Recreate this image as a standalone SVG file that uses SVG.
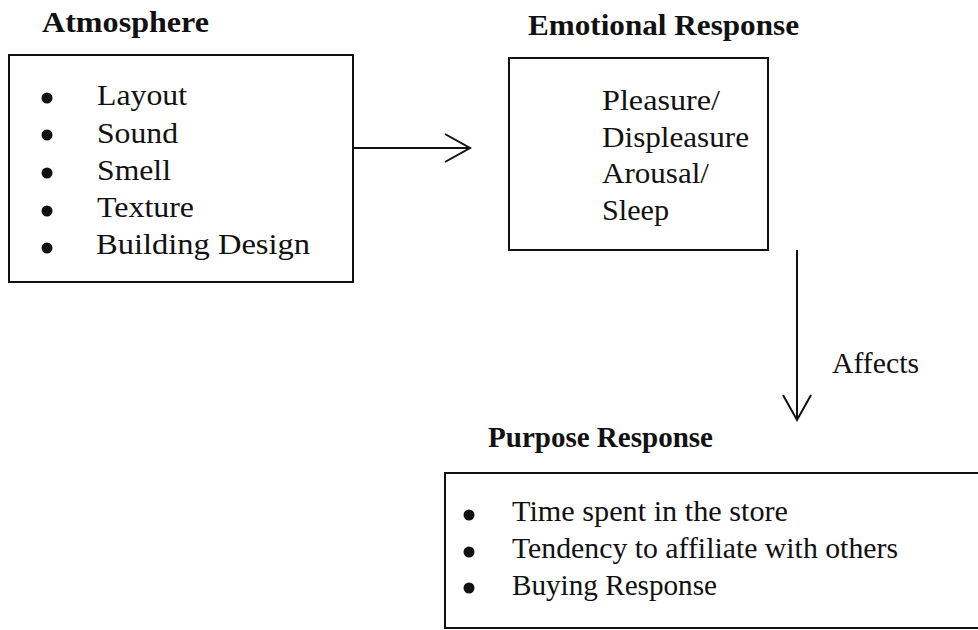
<svg xmlns="http://www.w3.org/2000/svg" width="978" height="630" viewBox="0 0 978 630">
<defs>
<style>
text{font-family:"Liberation Serif","Times New Roman",serif;fill:#111;}
.t{font-size:30px;}
.h{font-size:29px;font-weight:bold;}
.box{fill:none;stroke:#111;stroke-width:2;}
.line{fill:none;stroke:#111;stroke-width:2;}
.b{fill:#111;}
</style>
<marker id="open" viewBox="0 0 30 30" refX="26" refY="15" markerWidth="30" markerHeight="30" markerUnits="userSpaceOnUse" orient="auto">
<path d="M1,1 L26,15 L1,29" fill="none" stroke="#111" stroke-width="2"/>
</marker>
</defs>
<rect width="978" height="630" fill="#fff"/>
<g id="atmosphere">
<text class="h" x="42" y="32" textLength="167" lengthAdjust="spacingAndGlyphs">Atmosphere</text>
<rect class="box" x="9" y="55" width="344" height="227"/>
<circle class="b" cx="47" cy="98" r="5.5"/>
<circle class="b" cx="47" cy="135" r="5.5"/>
<circle class="b" cx="47" cy="173" r="5.5"/>
<circle class="b" cx="47" cy="211" r="5.5"/>
<circle class="b" cx="47" cy="248" r="5.5"/>
<text class="t" x="97" y="105" textLength="90" lengthAdjust="spacingAndGlyphs">Layout</text>
<text class="t" x="97" y="143" textLength="81" lengthAdjust="spacingAndGlyphs">Sound</text>
<text class="t" x="97" y="180" textLength="74" lengthAdjust="spacingAndGlyphs">Smell</text>
<text class="t" x="97" y="217" textLength="97" lengthAdjust="spacingAndGlyphs">Texture</text>
<text class="t" x="96" y="254" textLength="214" lengthAdjust="spacingAndGlyphs">Building Design</text>
</g>
<g id="emotional">
<text class="h" x="528" y="35" textLength="271" lengthAdjust="spacingAndGlyphs">Emotional Response</text>
<rect class="box" x="509" y="58" width="259" height="192"/>
<text class="t" x="602" y="110" textLength="118" lengthAdjust="spacingAndGlyphs">Pleasure/</text>
<text class="t" x="602" y="147" textLength="147" lengthAdjust="spacingAndGlyphs">Displeasure</text>
<text class="t" x="602" y="183" textLength="107" lengthAdjust="spacingAndGlyphs">Arousal/</text>
<text class="t" x="602" y="220" textLength="67" lengthAdjust="spacingAndGlyphs">Sleep</text>
</g>
<g id="purpose">
<text class="h" x="488" y="447" textLength="225" lengthAdjust="spacingAndGlyphs">Purpose Response</text>
<rect class="box" x="445" y="473" width="545" height="155"/>
<circle class="b" cx="469" cy="515" r="5.5"/>
<circle class="b" cx="469" cy="552" r="5.5"/>
<circle class="b" cx="469" cy="588" r="5.5"/>
<text class="t" x="512" y="521" textLength="276" lengthAdjust="spacingAndGlyphs">Time spent in the store</text>
<text class="t" x="512" y="558" textLength="386" lengthAdjust="spacingAndGlyphs">Tendency to affiliate with others</text>
<text class="t" x="512" y="595" textLength="205" lengthAdjust="spacingAndGlyphs">Buying Response</text>
</g>
<g id="connectors">
<line class="line" x1="353" y1="148" x2="470" y2="148" marker-end="url(#open)"/>
<line class="line" x1="797" y1="250" x2="797" y2="420" marker-end="url(#open)"/>
<text class="t" x="832" y="373" textLength="87" lengthAdjust="spacingAndGlyphs">Affects</text>
</g>
</svg>
